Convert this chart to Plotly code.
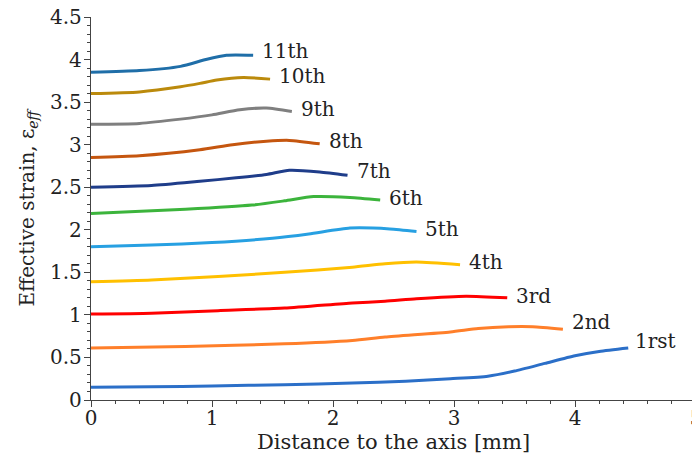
import plotly.graph_objects as go

labels = ["1rst", "2nd", "3rd", "4th", "5th", "6th", "7th", "8th", "9th", "10th", "11th"]

x_1 = [0, 0.5, 1.0, 1.6, 2.16, 2.6, 2.97, 3.28, 3.5, 3.75, 4.0, 4.2, 4.44]
y_1 = [0.15, 0.155, 0.165, 0.18, 0.2, 0.22, 0.25, 0.28, 0.34, 0.43, 0.52, 0.57, 0.61]

x_2 = [0, 0.78, 1.6, 2.16, 2.43, 2.97, 3.2, 3.45, 3.65, 3.9]
y_2 = [0.61, 0.63, 0.66, 0.7, 0.74, 0.8, 0.84, 0.86, 0.86, 0.83]

x_3 = [0, 0.5, 1.05, 1.6, 2.16, 2.43, 2.69, 3.1, 3.44]
y_3 = [1.01, 1.02, 1.05, 1.08, 1.14, 1.16, 1.19, 1.22, 1.2]

x_4 = [0, 0.5, 1.05, 1.6, 2.16, 2.43, 2.69, 3.05]
y_4 = [1.39, 1.41, 1.45, 1.5, 1.56, 1.6, 1.62, 1.59]

x_5 = [0, 0.5, 1.0, 1.5, 1.8, 2.14, 2.47, 2.69]
y_5 = [1.8, 1.82, 1.85, 1.9, 1.95, 2.02, 2.01, 1.98]

x_6 = [0, 0.78, 1.33, 1.6, 1.84, 2.14, 2.39]
y_6 = [2.19, 2.24, 2.29, 2.34, 2.39, 2.38, 2.35]

x_7 = [0, 0.5, 0.9, 1.2, 1.45, 1.64, 1.89, 2.12]
y_7 = [2.5, 2.52, 2.57, 2.61, 2.65, 2.7, 2.68, 2.64]

x_8 = [0, 0.4, 0.9, 1.17, 1.45, 1.64, 1.89]
y_8 = [2.85, 2.87, 2.94, 3.0, 3.04, 3.05, 3.01]

x_9 = [0, 0.4, 0.74, 1.0, 1.23, 1.45, 1.66]
y_9 = [3.24, 3.25, 3.3, 3.35, 3.41, 3.43, 3.39]

x_10 = [0, 0.4, 0.74, 0.9, 1.04, 1.26, 1.48]
y_10 = [3.6, 3.62, 3.68, 3.72, 3.76, 3.79, 3.77]

x_11 = [0, 0.4, 0.74, 0.95, 1.12, 1.34]
y_11 = [3.85, 3.87, 3.92, 4.0, 4.05, 4.05]

xs = [x_1, x_2, x_3, x_4, x_5, x_6, x_7, x_8, x_9, x_10, x_11]
ys = [y_1, y_2, y_3, y_4, y_5, y_6, y_7, y_8, y_9, y_10, y_11]

colors = ["#2b6fc8", "#ff7f2a", "#ff0000", "#ffc000", "#27a0e2", "#3cb43c",
          "#1f3d8a", "#c5560f", "#7f7f7f", "#bb8a0c", "#1f6ea8"]
label_yshift = [7, 7, 2, 3, 2, 2, 4, 3, 2, 3, 4]
label_xshift = [5, 7, 7, 7, 7, 7, 7, 7, 7, 7, 7]

FONT = "DejaVu Serif"

fig = go.Figure()
for lab, x, y, c, dy, dx in zip(labels, xs, ys, colors, label_yshift, label_xshift):
    fig.add_trace(go.Scatter(x=x, y=y, mode="lines", name=lab,
                             line=dict(color=c, width=3, shape="spline", smoothing=0.6),
                             showlegend=False))
    fig.add_annotation(x=x[-1], y=y[-1], text=lab, showarrow=False,
                       xanchor="left", yanchor="middle", xshift=dx, yshift=dy,
                       font=dict(family=FONT, size=20, color="#222222"))

axis_common = dict(showgrid=False, zeroline=False, showline=True, linecolor="#444444",
                   linewidth=1.3, ticks="outside", ticklen=6, tickwidth=1.3,
                   tickcolor="#444444", tickfont=dict(family=FONT, size=20, color="#222222"),
                   mirror=False, automargin=False, ticklabeloverflow="allow")

fig.update_xaxes(range=[0, 5], dtick=1, tick0=0, ticklabelstandoff=-6,
                 minor=dict(dtick=0.2, ticks="outside", ticklen=3, tickcolor="#444444", tickwidth=1.2),
                 title=dict(text="Distance to the axis [mm]", standoff=0,
                            font=dict(family=FONT, size=21, color="#222222")),
                 **axis_common)
fig.update_yaxes(range=[0, 4.5], dtick=0.5, tick0=0, ticklabelstandoff=-2,
                 minor=dict(dtick=0.1, ticks="outside", ticklen=3, tickcolor="#444444", tickwidth=1.2),
                 title=dict(text="Effective strain, ε<sub><i>eff</i></sub>", standoff=10,
                            font=dict(family=FONT, size=20, color="#222222")),
                 **axis_common)

fig.update_layout(width=692, height=447, margin=dict(l=83, r=4, t=9, b=55),
                  plot_bgcolor="white", paper_bgcolor="white")

fig.write_html("out.html")
